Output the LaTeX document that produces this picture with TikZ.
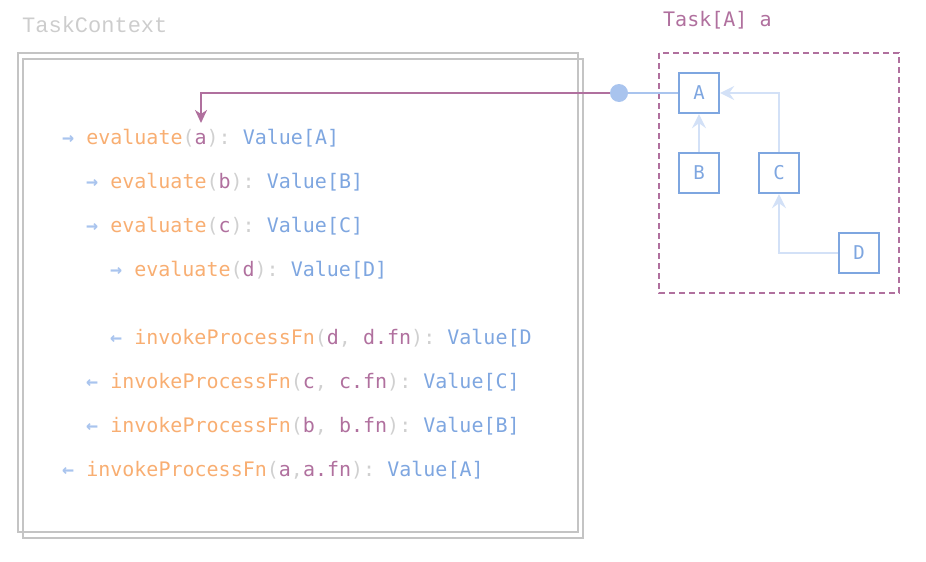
\documentclass[tikz,border=0pt]{standalone}
\usepackage{fontspec}
\setmonofont{DejaVu Sans Mono}
\newfontfamily\slabmono{Liberation Mono}
\usetikzlibrary{arrows.meta}

\definecolor{ctxgray}{HTML}{C4C4C4}
\definecolor{fnorange}{HTML}{F8AE72}
\definecolor{argpurple}{HTML}{B0709E}
\definecolor{valblue}{HTML}{7EA6E0}
\definecolor{edgeblue}{HTML}{D3E1F7}
\definecolor{dotblue}{HTML}{A9C4EE}
\definecolor{parengray}{HTML}{D0D0D0}

\newcommand{\inarrow}{\textcolor{dotblue}{\bfseries →}}
\newcommand{\outarrow}{\textcolor{dotblue}{\bfseries ←}}
\newcommand{\evalcall}[2]{\textcolor{fnorange}{evaluate}\textcolor{parengray}{(}\textcolor{argpurple}{#1}\textcolor{parengray}{):} \textcolor{valblue}{Value[#2]}}
\newcommand{\invokecall}[4]{\textcolor{fnorange}{invokeProcessFn}\textcolor{parengray}{(}\textcolor{argpurple}{#1}\textcolor{parengray}{#2}\textcolor{argpurple}{#3}\textcolor{parengray}{):} \textcolor{valblue}{#4}}

\begin{document}
\begin{tikzpicture}[x=1pt, y=-1pt]
        \useasboundingbox (0,0) rectangle (926,562);
        % task context frame
        \draw[ctxgray, line width=2.4pt] (18,53) rectangle (578,532);
        \draw[ctxgray, line width=2.4pt] (23,59) rectangle (583,538);
        \draw[argpurple, line width=2.4pt, dash pattern=on 6pt off 4pt] (659,53) rectangle (899,293);
        \begin{scope}
            \tikzstyle{every node}=[anchor=base west, inner sep=0, font=\ttfamily\fontsize{20}{24}\selectfont]
            \node[text=ctxgray!85, font=\slabmono\fontsize{22}{26}\selectfont] (ctx) at (22,32) {TaskContext};
            \node[text=argpurple] (tasklabel) at (663,27) {Task[A] a};
            \node (e1) at (62,144) {\inarrow{} \evalcall{a}{A}};
            \node (e2) at (86,188) {\inarrow{} \evalcall{b}{B}};
            \node (e3) at (86,232) {\inarrow{} \evalcall{c}{C}};
            \node (e4) at (110,276) {\inarrow{} \evalcall{d}{D}};
            \node (i4) at (110,344) {\outarrow{} \invokecall{d}{, }{d.fn}{Value[D}};
            \node (i3) at (86,388) {\outarrow{} \invokecall{c}{, }{c.fn}{Value[C]}};
            \node (i2) at (86,432) {\outarrow{} \invokecall{b}{, }{b.fn}{Value[B]}};
            \node (i1) at (62,476) {\outarrow{} \invokecall{a}{,}{a.fn}{Value[A]}};
        \end{scope}
        \begin{scope}
            \tikzstyle{every node}=[draw=valblue, line width=2.4pt, minimum size=40pt, inner sep=0, text=valblue, font=\ttfamily\fontsize{19}{22}\selectfont]
            \node (A) at (699,93) {A};
            \node (B) at (699,173) {B};
            \node (C) at (779,173) {C};
            \node (D) at (859,253) {D};
        \end{scope}
        \node[circle, fill=dotblue, minimum size=18pt, inner sep=0] (dot) at (619,93) {};
        \coordinate (argA) at (201,123);
        \begin{scope}
            \tikzstyle{every edge}=[draw, edgeblue, line width=2.4pt, -{Stealth[length=14pt, width=14pt, inset=5pt]}]
            \path
            (B) edge[] (A)
            (C.north) edge[to path={|- (\tikztotarget)}] (A.east)
            (D.west) edge[to path={-| (\tikztotarget)}] (C.south);
        \end{scope}
        \draw[dotblue, line width=2.4pt] (dot) -- (A);
        \draw[argpurple, line width=2.4pt, -{Stealth[length=13pt, width=12pt, inset=4pt]}] (dot.west) -| (argA);
    \end{tikzpicture}
\end{document}
